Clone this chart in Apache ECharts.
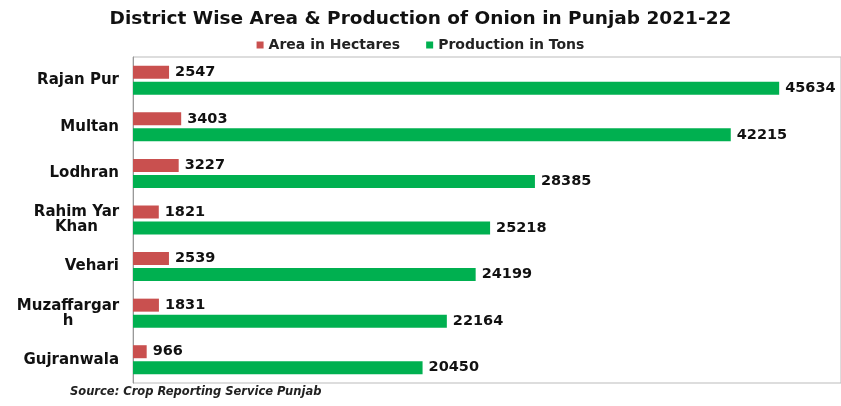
<!DOCTYPE html>
<html><head><meta charset="utf-8">
<script src="https://cdn.jsdelivr.net/npm/echarts@6/dist/echarts.min.js"></script>
<style>html,body{margin:0;padding:0;background:#fff}#c{width:841px;height:406px}</style>
</head><body><div id="c"></div>
<script>
const districts = ["Rajan Pur","Multan","Lodhran","Rahim Yar\nKhan","Vehari","Muzaffargar\nh","Gujranwala"];
const areaHectares = [2547,3403,3227,1821,2539,1831,966];
const productionTons = [45634,42215,28385,25218,24199,22164,20450];
const titleText = "District Wise Area & Production of Onion in Punjab 2021-22";
const sourceText = "Source: Crop Reporting Service Punjab";

const chart = echarts.init(document.getElementById('c'));
const font = "DejaVu Sans";
const catFontSize = 15;
const ctx = document.createElement('canvas').getContext('2d');
ctx.font = 'bold ' + catFontSize + 'px "' + font + '"';
const lbl = {show:true, position:'right', distance:6, color:'#111', fontFamily:font, fontWeight:'bold', fontSize:14.5};
chart.setOption({
  animation:false,
  title:{text:titleText, left:'center', top:5, textStyle:{fontFamily:font, fontWeight:'bold', fontSize:18.5, color:'#111'}},
  legend:{top:33, left:'center', itemWidth:7, itemHeight:7, itemGap:26, icon:'rect',
    textStyle:{fontFamily:font, fontWeight:'bold', fontSize:14, color:'#222'}},
  graphic:[{type:'text', left:70, top:386, style:{text:sourceText, fontFamily:font, fontStyle:'italic', fontWeight:'bold', fontSize:11.5, fill:'#222'}}],
  grid:{left:133, right:0, top:57, height:326, show:true, borderColor:'#bbb', borderWidth:1},
  xAxis:{type:'value', min:0, max:50000, show:false, splitLine:{show:false}},
  yAxis:{type:'category', data:districts, inverse:true,
    axisLine:{show:true, lineStyle:{color:'#999'}}, axisTick:{show:false},
    axisLabel:{fontFamily:font, fontWeight:'bold', fontSize:catFontSize, color:'#111', margin:14, lineHeight:15,
      formatter: function(v){
        if (v.indexOf('\n') < 0) return v;
        const lines = v.split('\n');
        const w = Math.max.apply(null, lines.map(l => ctx.measureText(l).width));
        chart._mlw = chart._mlw || {};
        return lines.map(l => '{c' + Math.round(w) + '|' + l + '}').join('\n');
      },
      rich:(function(){
        const r = {};
        for (let w = 40; w <= 140; w++) r['c' + w] = {width:w, align:'center', fontFamily:font, fontWeight:'bold', fontSize:catFontSize, color:'#111', lineHeight:15};
        return r;
      })()
    }},
  series:[
    {name:'Area in Hectares', type:'bar', data:areaHectares, barWidth:13, barGap:'23%', itemStyle:{color:'#c9504f'}, label:lbl},
    {name:'Production in Tons', type:'bar', data:productionTons, barWidth:13, itemStyle:{color:'#00b050'}, label:lbl}
  ]
});
</script></body></html>
